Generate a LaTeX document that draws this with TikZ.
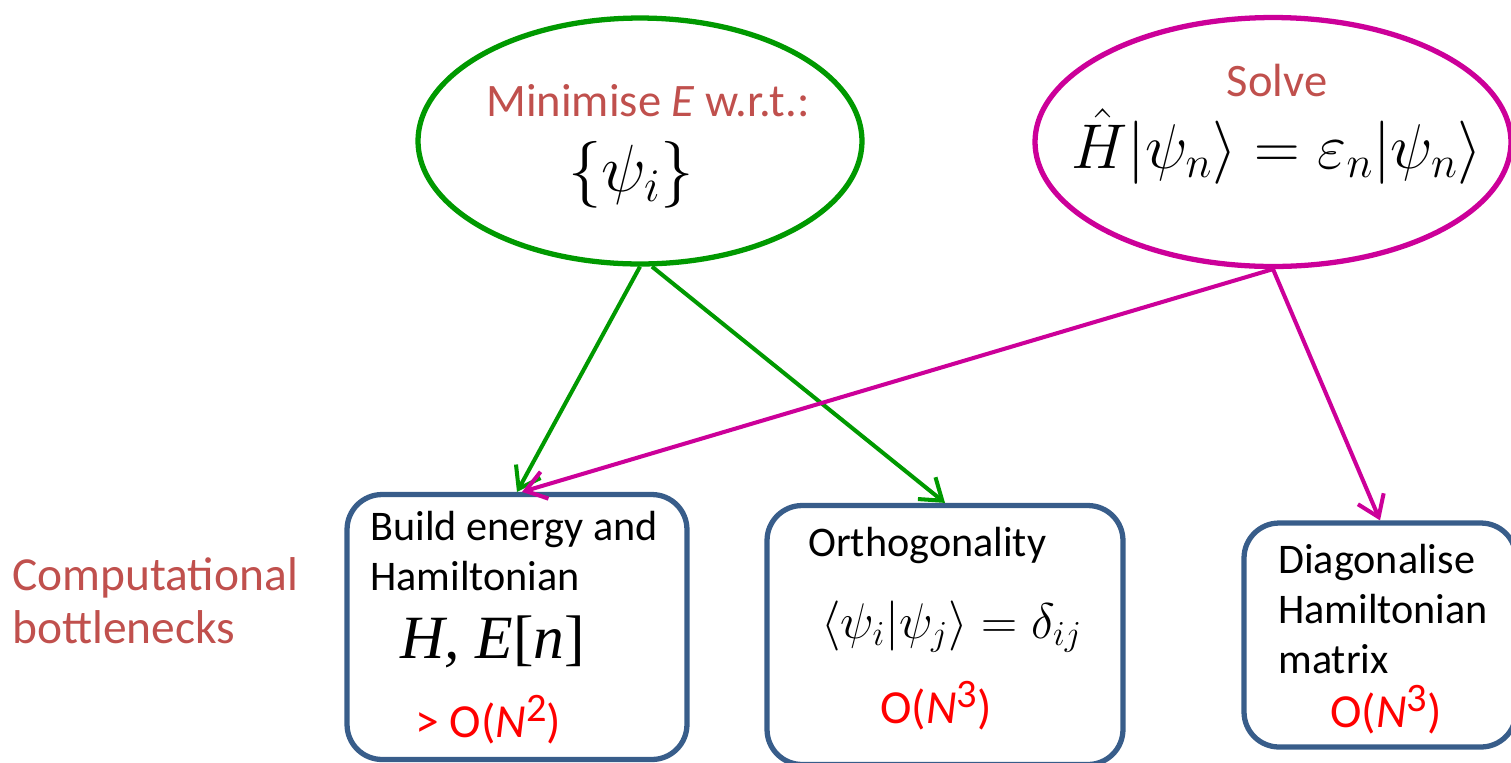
\documentclass[tikz,border=0pt]{standalone}
\usepackage{fix-cm}
\usepackage{fontspec}
\setmainfont{Carlito}
\newfontfamily\timesfont{Liberation Serif}
\usetikzlibrary{arrows.meta,positioning,shapes.geometric}
\definecolor{leafgreen}{HTML}{009900}
\definecolor{orchid}{HTML}{CC0099}
\definecolor{boxblue}{HTML}{385D8A}
\definecolor{brick}{HTML}{C0504D}
\newcommand{\bigsup}[1]{\raisebox{0.32em}{\fontsize{23}{24}\selectfont #1}}

\begin{document}
\begin{tikzpicture}[x=0.02cm,y=-0.02cm,
  oval/.style={ellipse,line width=3pt,inner sep=0pt},
  box/.style={draw=boxblue,line width=3pt,rounded corners=0.7cm,inner sep=0pt},
  flow/.style={-{Straight Barb[length=4mm,width=5.6mm]},line width=2.3pt},
  lbl/.style={anchor=base west,inner sep=0pt,align=left},
  cost/.style={anchor=base west,inner sep=0pt,text=red,font=\fontsize{27}{30}\selectfont}]
\useasboundingbox (0,0) rectangle (1511,762);
% the two goals
\node[oval,draw=leafgreen,minimum width=8.88cm,minimum height=4.92cm] (mini) at (640,141) {};
\node[oval,draw=orchid,minimum width=9.52cm,minimum height=4.98cm] (solve) at (1273,142) {};
\node[anchor=base,inner sep=0pt,text=brick,font=\fontsize{26.5}{30}\selectfont] (minitxt) at (648,116) {Minimise \textit{E} w.r.t.:};
\node[anchor=base,inner sep=0pt,font=\fontsize{38}{42}\selectfont] (psiset) at (631,191) {$\{\psi_i\}$};
\node[anchor=base,inner sep=0pt,text=brick,font=\fontsize{26.5}{30}\selectfont] (solvetxt) at (1277,96) {Solve};
\node[anchor=base,inner sep=0pt,font=\fontsize{36}{40}\selectfont] (eigeq) at (1277,168) {$\hat{H}|\psi_n\rangle=\varepsilon_n|\psi_n\rangle$};
% bottlenecks
\node[box,minimum width=6.8cm,minimum height=5.3cm] (build) at (517,627) {};
\node[box,minimum width=7.12cm,minimum height=5.18cm] (ortho) at (945,635) {};
\node[box,minimum width=5.44cm,minimum height=4.48cm] (diag) at (1380,635) {};
\node[lbl,font=\fontsize{24}{28.4}\selectfont] (buildtxt) at (370,590) {Build energy and\\Hamiltonian};
\node[lbl,font=\timesfont\itshape\fontsize{35}{40}\selectfont] (hentxt) at (400,658) {H, E\textup{[}n\textup{]}};
\node[cost] (cost1) at (415,737) {> O(\textit{N}\bigsup{2})};
\node[lbl,font=\fontsize{24}{28.4}\selectfont] (orthtxt) at (808,556) {Orthogonality};
\node[lbl,font=\fontsize{28.5}{32}\selectfont] (orthmath) at (821,638) {$\langle\psi_i|\psi_j\rangle=\delta_{ij}$};
\node[cost] (cost2) at (880,723) {O(\textit{N}\bigsup{3})};
\node[lbl,font=\fontsize{24}{28.4}\selectfont] (diagtxt) at (1278,673) {Diagonalise\\Hamiltonian\\matrix};
\node[cost] (cost3) at (1330,727) {O(\textit{N}\bigsup{3})};
\node[lbl,text=brick,font=\fontsize{27}{30}\selectfont] (bottle) at (12,643) {Computational\\bottlenecks};
% arrows
\draw[flow,leafgreen] (mini.south) -- (build.north);
\draw[flow,leafgreen] ([xshift=0.24cm]mini.south) -- (ortho.north);
\draw[flow,orchid] (solve.south) -- ([xshift=0.1cm]build.north);
\draw[flow,orchid] (solve.south) -- (diag.north);
\end{tikzpicture}
\end{document}
